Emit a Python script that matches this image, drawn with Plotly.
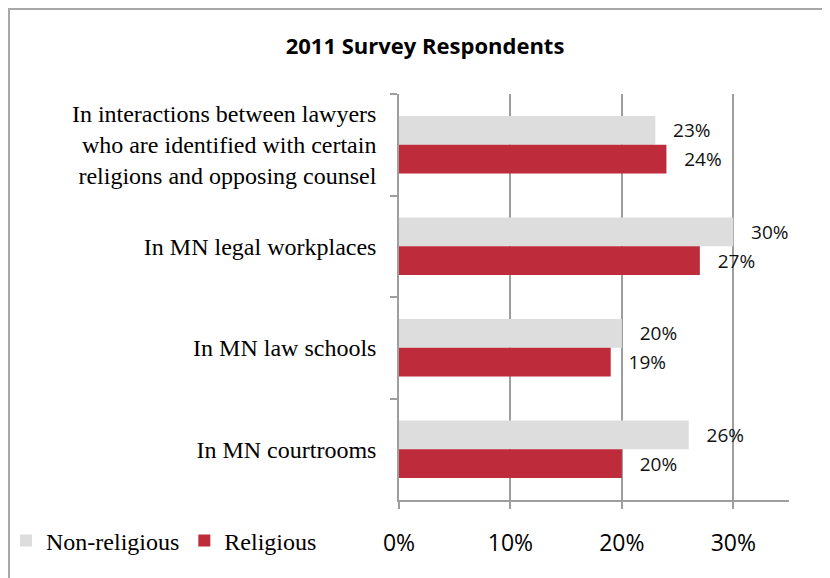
import plotly.graph_objects as go

categories = [
    "In interactions between lawyers<br>who are identified with certain<br>religions and opposing counsel",
    "In MN legal workplaces",
    "In MN law schools",
    "In MN courtrooms",
]
non_religious = [0.23, 0.30, 0.20, 0.26]
religious = [0.24, 0.27, 0.19, 0.20]
x_ticks = [0, 0.1, 0.2, 0.3]
x_tick_labels = ["0%", "10%", "20%", "30%"]

# page has an 8px body margin; figure coordinates = page coordinates - 8
OFF = 8
W, H = 830 - OFF, 578 - OFF
L, T = 399 - OFF, 94 - OFF
R = W - (789 - OFF)
B = H - (500 - OFF)
PW, PH = W - L - R, H - T - B

def px_x(p):
    return (p - OFF - L) / PW

def px_y(p):
    return (H - B - (p - OFF)) / PH

GRAY = "#dddddd"
RED = "#be2b3b"
AXIS = "#9e9e9e"
SANS = "Open Sans"
SERIF = "Liberation Serif"
PAD = "\u00a0\u00a0\u00a0"

fig = go.Figure()
fig.add_trace(go.Bar(
    name="Non-religious", y=categories, x=non_religious, orientation="h",
    marker=dict(color=GRAY, line=dict(width=0)),
    text=[PAD + f"{v*100:.0f}%" for v in non_religious],
    textposition="outside", cliponaxis=False,
    textfont=dict(family=SANS, size=19, color="#111111"),
))
fig.add_trace(go.Bar(
    name="Religious", y=categories, x=religious, orientation="h",
    marker=dict(color=RED, line=dict(width=0)),
    text=[PAD + f"{v*100:.0f}%" for v in religious],
    textposition="outside", cliponaxis=False,
    textfont=dict(family=SANS, size=19, color="#111111"),
))

fig.update_layout(
    width=W, height=H,
    margin=dict(l=L, r=R, t=T, b=B, autoexpand=False),
    paper_bgcolor="white", plot_bgcolor="white",
    barmode="group", bargap=0.433, bargroupgap=0,
    title=dict(text="<b>2011 Survey Respondents</b>", x=(425 - OFF) / W, xanchor="center",
               y=1 - (46 - OFF) / H, yanchor="middle", yref="container",
               font=dict(family=SANS, size=22, color="black")),
    showlegend=True,
    legend=dict(orientation="h", x=px_x(6), xanchor="left", y=px_y(541), yanchor="middle",
                font=dict(family=SERIF, size=24, color="black"),
                bgcolor="rgba(0,0,0,0)", borderwidth=0, traceorder="normal"),
    xaxis=dict(range=[0, 0.35], tickvals=x_ticks, ticktext=x_tick_labels,
               showgrid=True, gridcolor=AXIS, gridwidth=1.5, zeroline=False,
               showline=True, linecolor=AXIS, linewidth=1.5,
               ticks="outside", ticklen=7, tickcolor=AXIS, tickwidth=1.5,
               ticklabelstandoff=15,
               tickfont=dict(family=SANS, size=23, color="black"), fixedrange=True),
    yaxis=dict(autorange="reversed", type="category", tickson="boundaries",
               showline=True, linecolor=AXIS, linewidth=1.5, showgrid=False,
               ticks="outside", ticklen=7, tickcolor=AXIS, tickwidth=1.5,
               ticklabelstandoff=16,
               tickfont=dict(family=SERIF, size=24, color="black"), fixedrange=True),
    shapes=[dict(type="rect", xref="paper", yref="paper",
                 x0=px_x(9), x1=px_x(850), y0=px_y(600), y1=px_y(9),
                 line=dict(color="#a8a8a8", width=2), fillcolor="rgba(0,0,0,0)",
                 layer="below")],
)

fig.write_html("out.html")
